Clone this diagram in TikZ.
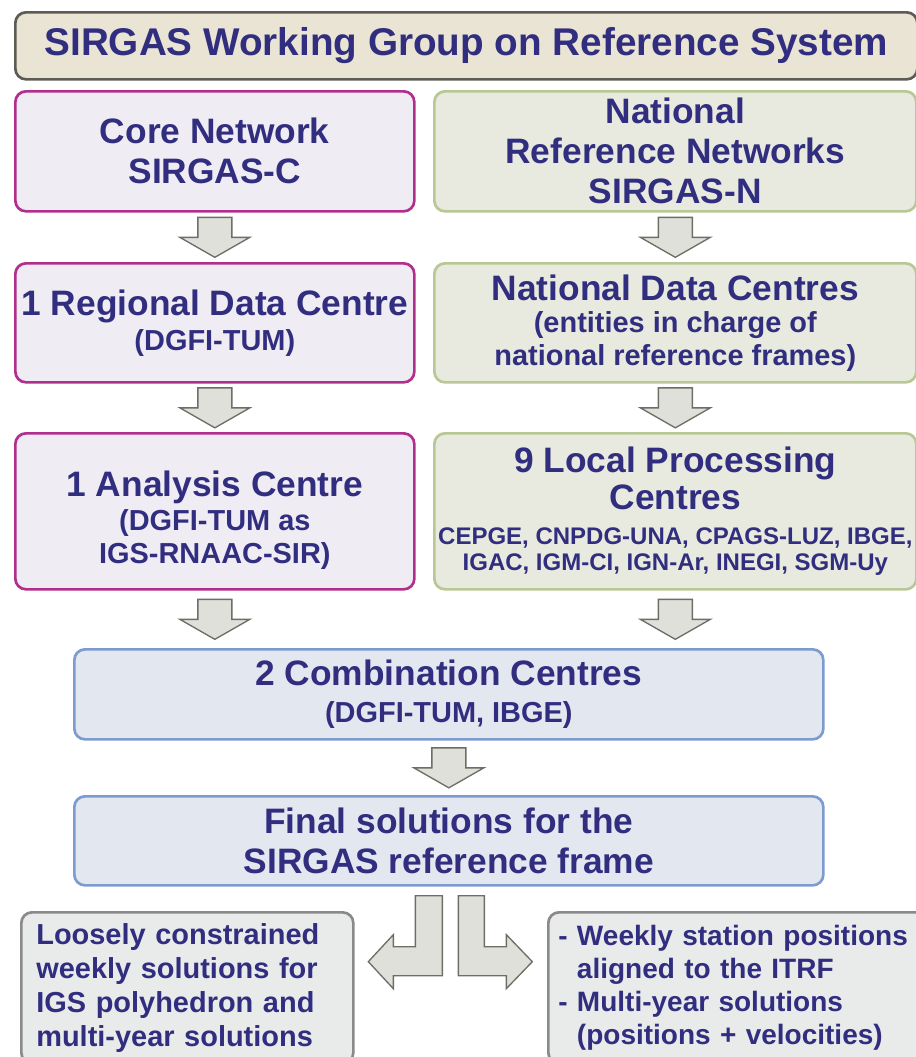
\documentclass[tikz,border=0pt]{standalone}
\usepackage{fontspec}
\setmainfont{Liberation Sans}
\usetikzlibrary{calc}

\definecolor{wgtext}{RGB}{49,46,128}
\definecolor{titlefill}{RGB}{233,228,211}
\definecolor{titleline}{RGB}{92,92,84}
\definecolor{corefill}{RGB}{240,236,243}
\definecolor{coreline}{RGB}{178,46,140}
\definecolor{natfill}{RGB}{232,234,223}
\definecolor{natline}{RGB}{185,199,148}
\definecolor{combfill}{RGB}{227,231,240}
\definecolor{combline}{RGB}{125,155,207}
\definecolor{outfill}{RGB}{233,234,234}
\definecolor{outdraw}{RGB}{138,138,138}
\definecolor{arrowfill}{RGB}{224,224,219}
\definecolor{arrowline}{RGB}{109,110,102}

\newcommand{\headsize}{\fontsize{26.5}{30}\selectfont}
\newcommand{\listsize}{\fontsize{18}{19.5}\selectfont\lineskiplimit=-50pt}

\begin{document}
\begin{tikzpicture}[x=0.75pt,y=-0.75pt]

    \tikzset{
      box/.style={
        draw,
        line width=2pt,
        rounded corners=8pt,
        anchor=north west,
        align=center,
        inner sep=0pt,
        text=wgtext,
      },
      titlebox/.style={box, fill=titlefill, draw=titleline},
      corebox/.style={box, fill=corefill, draw=coreline},
      natbox/.style={box, fill=natfill, draw=natline},
      combbox/.style={box, fill=combfill, draw=combline},
      outbox/.style={box, fill=outfill, draw=outdraw, align=left},
      blockarrow/.style={draw=arrowline, fill=arrowfill, line width=1pt},
      pics/downarr/.style={code={
        \draw[blockarrow] (-17,-20) -- (17,-20) -- (17,0) -- (35,0) -- (0,20) -- (-35,0) -- (-17,0) -- cycle;
      }},
    }
    \useasboundingbox (0,0) rectangle (916,1057);

	\node[titlebox, minimum width=902*0.75pt, minimum height=67*0.75pt, font=\bfseries\fontsize{29}{34}\selectfont] (wg) at (14,11) {SIRGAS Working Group on Reference System};

	\node[corebox, minimum width=399*0.75pt, minimum height=120*0.75pt, font=\bfseries\headsize] (core) at (14,90) {Core Network\\SIRGAS-C};
	\node[natbox, minimum width=482*0.75pt, minimum height=120*0.75pt, font=\bfseries\headsize] (nrn) at (433,90) {National\\Reference Networks\\SIRGAS-N};

	\node[corebox, minimum width=399*0.75pt, minimum height=119*0.75pt, font=\bfseries\fontsize{21.7}{26.25}\selectfont] (rdc) at (14,262) {{\headsize 1 Regional Data Centre}\\(DGFI-TUM)};
	\node[natbox, minimum width=482*0.75pt, minimum height=119*0.75pt, font=\bfseries\fontsize{21.7}{24.4}\selectfont] (ndc) at (433,262) {{\headsize National Data Centres}\\(entities in charge of\\national reference frames)};

	\node[corebox, minimum width=399*0.75pt, minimum height=156*0.75pt, font=\bfseries\fontsize{21.7}{25}\selectfont] (ac) at (14,432) {{\headsize\rule{0pt}{32.6pt}1 Analysis Centre}\\(DGFI-TUM as\\IGS-RNAAC-SIR)};
	\node[natbox, minimum width=482*0.75pt, minimum height=156*0.75pt, font=\bfseries\listsize] (lpc) at (433,432) {{\headsize 9 Local Processing}\\[8.25pt]{\headsize Centres}\\[6.75pt]CEPGE, CNPDG-UNA, CPAGS-LUZ, IBGE,\\IGAC, IGM-CI, IGN-Ar, INEGI, SGM-Uy};

	\node[combbox, minimum width=749*0.75pt, minimum height=90*0.75pt, font=\bfseries\fontsize{21.7}{27.75}\selectfont] (comb) at (73,648) {{\headsize 2 Combination Centres}\\(DGFI-TUM, IBGE)};
	\node[combbox, minimum width=749*0.75pt, minimum height=89*0.75pt, font=\bfseries\headsize] (final) at (73,795) {Final solutions for the\\SIRGAS reference frame};

	\node[outbox, text width=302*0.75pt, inner xsep=15*0.75pt, minimum height=151*0.75pt, font=\bfseries\fontsize{21.7}{25.5}\selectfont] (loose) at (20,911) {Loosely constrained\\weekly solutions for\\IGS polyhedron and\\multi-year solutions};
	\node[outbox, text width=362*0.75pt, inner xsep=10*0.75pt, minimum height=151*0.75pt, font=\bfseries\fontsize{21}{24.75}\selectfont] (weekly) at (547,911) {- Weekly station positions\\\phantom{- }aligned to the ITRF\\- Multi-year solutions\\\phantom{- }(positions + velocities)};

	\pic at ($(core.south)!.5!(rdc.north)$) {downarr};
	\pic at ($(nrn.south)!.5!(ndc.north)$) {downarr};
	\pic at ($(rdc.south)!.5!(ac.north)$) {downarr};
	\pic at ($(ndc.south)!.5!(lpc.north)$) {downarr};
	\pic at ($(ac.south)!.5!(ac.south |- comb.north)$) {downarr};
	\pic at ($(lpc.south)!.5!(lpc.south |- comb.north)$) {downarr};
	\pic at ($(comb.south)!.5!(final.north)$) {downarr};

	\draw[blockarrow, shift={(final.south)}] (-6.5,9) -- (-6.5,89) -- (-55.5,89) -- (-55.5,102) -- (-80.5,75) -- (-55.5,48) -- (-55.5,60) -- (-33.5,60) -- (-33.5,9) -- cycle;
	\draw[blockarrow, shift={(final.south)}] (9.5,9) -- (35.5,9) -- (35.5,60) -- (57.5,60) -- (57.5,48) -- (83.5,75) -- (57.5,102) -- (57.5,89) -- (9.5,89) -- cycle;

\end{tikzpicture}
\end{document}
